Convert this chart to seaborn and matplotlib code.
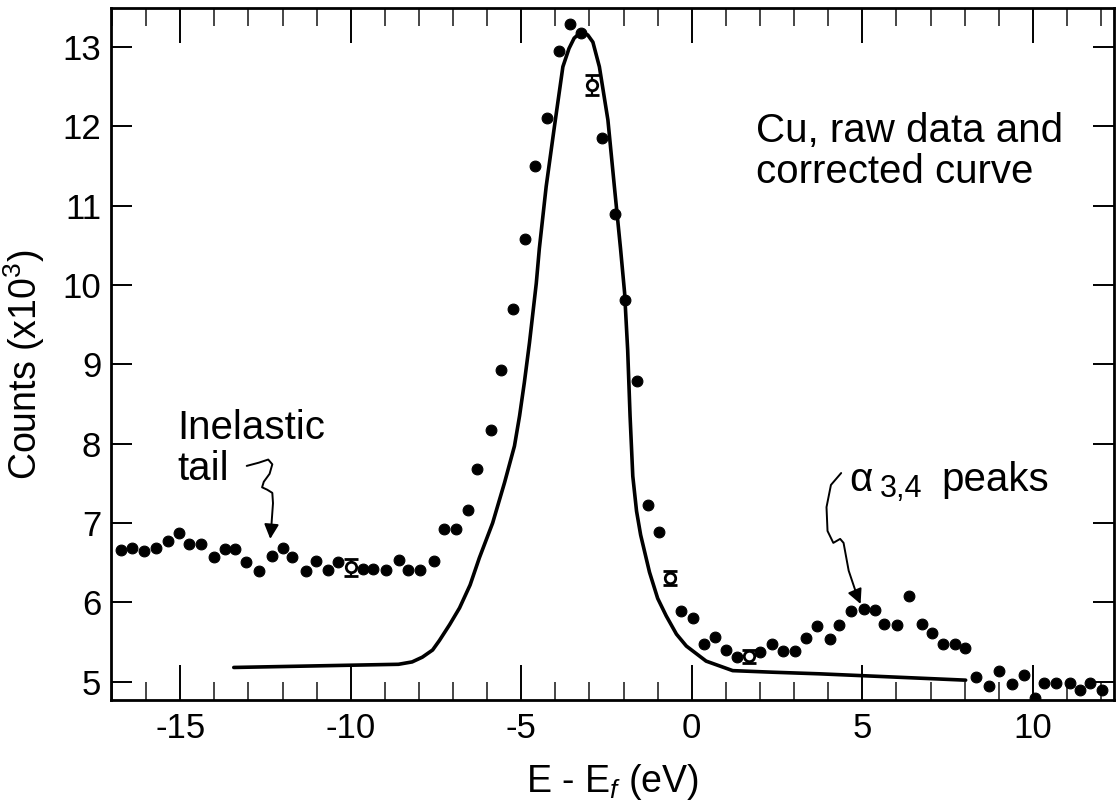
import matplotlib
matplotlib.use("Agg")
import matplotlib.pyplot as plt
from matplotlib.ticker import MultipleLocator
import numpy as np
import pandas as pd
import seaborn as sns

# Raw counts (thousands) vs. E - Ef (eV)
raw_e = [-16.73, -16.41, -16.05, -15.71, -15.37, -15.04, -14.73, -14.39, -14.02, -13.70,
         -13.38, -13.07, -12.68, -12.30, -11.99, -11.72, -11.31, -11.01, -10.66, -10.38,
         -9.65, -9.35, -8.98, -8.59, -8.33, -7.96, -7.57, -7.28, -6.91, -6.57,
         -6.30, -5.90, -5.59, -5.24, -4.88, -4.59, -4.24, -3.88, -3.56, -3.24,
         -2.63, -2.24, -1.95, -1.61, -1.29, -0.97, -0.33, 0.03, 0.35, 0.67,
         0.99, 1.33, 1.99, 2.36, 2.67, 3.03, 3.35, 3.66, 4.04, 4.33,
         4.67, 5.04, 5.36, 5.65, 6.01, 6.38, 6.76, 7.05, 7.36, 7.72,
         8.01, 8.34, 8.71, 9.02, 9.40, 9.73, 10.07, 10.34, 10.69, 11.08,
         11.37, 11.68, 12.03]
raw_counts = [6.66, 6.68, 6.65, 6.68, 6.77, 6.87, 6.74, 6.74, 6.57, 6.67,
              6.67, 6.51, 6.39, 6.58, 6.68, 6.57, 6.39, 6.52, 6.41, 6.51,
              6.42, 6.42, 6.41, 6.53, 6.41, 6.41, 6.52, 6.92, 6.92, 7.16,
              7.68, 8.17, 8.93, 9.70, 10.58, 11.50, 12.10, 12.95, 13.29, 13.17,
              11.85, 10.90, 9.81, 8.79, 7.23, 6.89, 5.89, 5.80, 5.47, 5.56,
              5.40, 5.31, 5.38, 5.47, 5.39, 5.39, 5.55, 5.70, 5.54, 5.72,
              5.89, 5.92, 5.90, 5.73, 5.72, 6.08, 5.73, 5.62, 5.47, 5.47,
              5.42, 5.06, 4.95, 5.14, 4.97, 5.08, 4.79, 4.99, 4.99, 4.99,
              4.89, 4.99, 4.89]

# Points shown with statistical error bars
err_e = [-9.99, -2.92, -0.63, 1.67]
err_counts = [6.44, 12.52, 6.31, 5.32]
err_size = [0.11, 0.12, 0.09, 0.08]

# Corrected curve
curve_e = [-13.43, -8.60, -8.20, -7.90, -7.60, -7.40, -7.10, -6.81, -6.50, -6.23,
           -5.84, -5.49, -5.20, -5.05, -4.91, -4.76, -4.56, -4.47, -4.27, -4.03,
           -3.78, -3.60, -3.45, -3.24, -3.05, -2.90, -2.71, -2.46, -2.27, -2.09,
           -1.97, -1.88, -1.81, -1.73, -1.62, -1.50, -1.24, -1.00, -0.75, -0.45,
           -0.16, 0.42, 1.20, 2.38, 3.74, 8.03]
curve_counts = [5.18, 5.22, 5.25, 5.31, 5.40, 5.52, 5.72, 5.93, 6.22, 6.56,
                7.00, 7.51, 7.97, 8.35, 8.77, 9.27, 10.02, 10.46, 11.24, 11.99,
                12.75, 12.98, 13.11, 13.19, 13.15, 13.06, 12.75, 12.08, 11.24, 10.46,
                9.90, 9.18, 8.35, 7.59, 7.15, 6.85, 6.38, 6.05, 5.83, 5.60,
                5.45, 5.26, 5.14, 5.12, 5.10, 5.02]

# Hand-drawn pointer paths for the annotations
tail_arrow_e = [-13.05, -12.70, -12.42, -12.30, -12.38, -12.55, -12.60, -12.45, -12.30, -12.28, -12.33, -12.36]
tail_arrow_c = [7.72, 7.76, 7.80, 7.74, 7.62, 7.52, 7.45, 7.42, 7.38, 7.25, 6.95, 6.80]
alpha_arrow_e = [4.38, 4.08, 3.95, 3.98, 4.15, 4.35, 4.45, 4.60, 4.85, 4.95]
alpha_arrow_c = [7.63, 7.48, 7.20, 6.90, 6.75, 6.80, 6.75, 6.40, 6.08, 5.98]

sns.set_theme(style="white")
plt.rcParams["font.family"] = ["Liberation Sans", "DejaVu Sans"]
plt.rcParams["mathtext.fontset"] = "custom"
plt.rcParams["mathtext.rm"] = "Liberation Sans"
plt.rcParams["mathtext.it"] = "Liberation Sans:italic"
plt.rcParams["mathtext.bf"] = "Liberation Sans:bold"

fig = plt.figure(figsize=(11.16, 8.10), dpi=100)
ax = fig.add_axes([111 / 1116, 110 / 810, 1003 / 1116, 692 / 810])

raw_df = pd.DataFrame({"E": raw_e, "Counts": raw_counts})
curve_df = pd.DataFrame({"E": curve_e, "Counts": curve_counts})

sns.lineplot(data=curve_df, x="E", y="Counts", sort=False, color="black",
             linewidth=2.6, ax=ax)
sns.scatterplot(data=raw_df, x="E", y="Counts", color="black", s=60,
                edgecolor="black", linewidth=0.8, ax=ax, zorder=3)
ax.errorbar(err_e, err_counts, yerr=err_size, fmt="o", ms=7.5, mfc="white",
            mec="black", mew=2.0, ecolor="black", elinewidth=1.6, capsize=5,
            capthick=1.8, zorder=4)

# pointer lines
for pe, pc in ((tail_arrow_e, tail_arrow_c), (alpha_arrow_e, alpha_arrow_c)):
    ax.plot(pe[:-1], pc[:-1], color="black", lw=1.4)
    ax.annotate("", xy=(pe[-1], pc[-1]), xytext=(pe[-2], pc[-2]),
                arrowprops=dict(arrowstyle="-|>", color="black", lw=1.4,
                                mutation_scale=22, shrinkA=0, shrinkB=0))

txt = dict(color="black", fontsize=29)
ax.text(-15.08, 8.44, "Inelastic\ntail", ha="left", va="top", linespacing=1.1, **txt)
ax.text(1.87, 12.18, "Cu, raw data and\ncorrected curve", ha="left", va="top",
        linespacing=1.1, **txt)
ax.text(4.62, 7.40, "α", ha="left", va="baseline", **txt)
ax.text(5.50, 7.33, "3,4", ha="left", va="baseline", color="black", fontsize=22)
ax.text(7.32, 7.40, "peaks", ha="left", va="baseline", **txt)

ax.set_xlim(-17.03, 12.38)
ax.set_ylim(4.77, 13.49)
ax.xaxis.set_major_locator(MultipleLocator(5))
ax.xaxis.set_minor_locator(MultipleLocator(1))
ax.yaxis.set_major_locator(MultipleLocator(1))
ax.set_xticks([-15, -10, -5, 0, 5, 10])
ax.set_xticklabels(["-15", "-10", "-5", "0", "5", "10"])

ax.tick_params(axis="x", which="major", direction="in", top=True, bottom=True,
               length=25, width=1.4, pad=9, labelsize=25, colors="black")
ax.tick_params(axis="x", which="minor", direction="in", top=True, bottom=True,
               length=13, width=1.2)
ax.tick_params(axis="y", which="major", direction="in", left=True, right=True,
               length=15, width=1.4, pad=7, labelsize=25, colors="black")

for sp in ax.spines.values():
    sp.set_visible(True)
    sp.set_color("black")
    sp.set_linewidth(2.0)

ax.set_xlabel(r"E - E$_f$ (eV)", fontsize=27, color="black", labelpad=12)
ax.set_ylabel(r"Counts (x10$^3$)", fontsize=27, color="black")
ax.yaxis.set_label_coords(-0.064, 0.484)

fig.savefig("out.png", dpi=100, facecolor="white")
